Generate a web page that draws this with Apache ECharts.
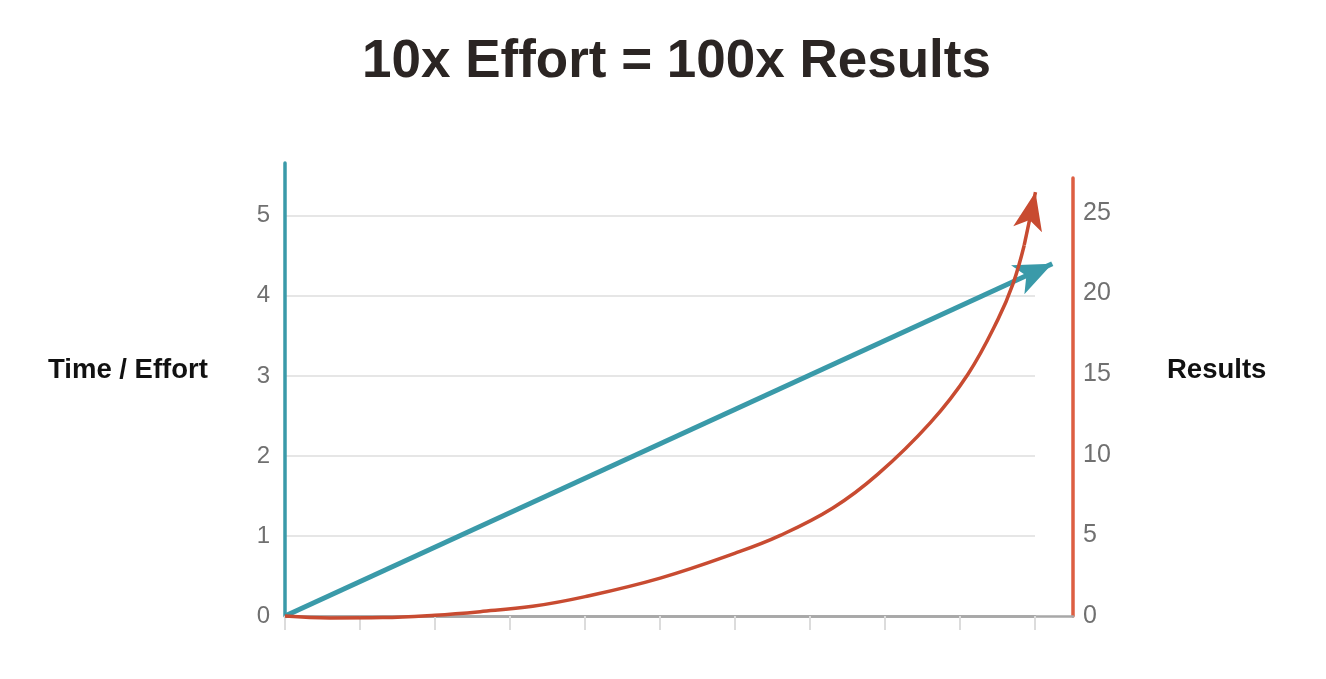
<!DOCTYPE html>
<html>
<head>
<meta charset="utf-8">
<title>10x Effort = 100x Results</title>
<script src="https://cdn.jsdelivr.net/npm/echarts@6/dist/echarts.min.js"></script>
<style>
  html, body { margin: 0; padding: 0; background: #fff; }
  #chart { width: 1326px; height: 679px; }
</style>
</head>
<body>
<div id="chart"></div>
<script>
// effort line (left axis) - straight, ends at the arrow tip
const effortX = [0, 10.23]
const effort = [0, 4.4]

// results curve (right axis), last point = arrow tip
const resultsX = [0, 0.6, 1.3, 2, 2.6, 3.3, 4, 5, 6, 6.6, 7.3, 7.9, 8.6, 9.1, 9.5, 9.7, 9.85, 10]
const results = [0, -0.12, -0.1, 0.05, 0.27, 0.6, 1.2, 2.35, 3.9, 5.0, 6.7, 8.8, 12.0, 15.0, 18.4, 20.6, 23.0, 26.3]

const effortTicks = [0, 1, 2, 3, 4, 5]
const resultsTicks = [0, 5, 10, 15, 20, 25]

const TEAL = '#3a9aa9'
const RED = '#c84b31'
const FONT = '"Liberation Sans", Arial, Helvetica, sans-serif'

const chart = echarts.init(document.getElementById('chart'))

const resultsData = resultsX.map((x, i) => [x, results[i]])
const n = resultsData.length

const option = {
  animation: false,
  title: [
    {
      text: '10x Effort = 100x Results',
      left: 357, top: 31,
      textStyle: { fontSize: 53, fontWeight: 'bold', color: '#2b2523', fontFamily: FONT }
    },
    {
      text: 'Time / Effort',
      left: 43, top: 351,
      textStyle: { fontSize: 27.5, fontWeight: 'bold', color: '#111', fontFamily: FONT }
    },
    {
      text: 'Results',
      left: 1162, top: 351,
      textStyle: { fontSize: 27.5, fontWeight: 'bold', color: '#111', fontFamily: FONT }
    }
  ],
  grid: [
    { left: 285, right: 291, top: 163, bottom: 63, outerBoundsMode: 'none' },
    { left: 285, right: 253, top: 178, bottom: 63, outerBoundsMode: 'none' }
  ],
  xAxis: [
    {
      gridIndex: 0, type: 'value', min: 0, max: 10, interval: 1,
      axisLine: { show: true, onZero: false, lineStyle: { color: '#9a9a9a', width: 2.5 } },
      axisTick: { show: true, length: 14, lineStyle: { color: '#dcdcdc', width: 2 } },
      axisLabel: { show: false },
      splitLine: { show: false }
    },
    {
      gridIndex: 1, type: 'value', min: 0, max: 10.5,
      axisLine: { show: true, onZero: false, lineStyle: { color: '#a8a8a8', width: 2.5 } },
      axisTick: { show: false },
      axisLabel: { show: false },
      splitLine: { show: false }
    }
  ],
  yAxis: [
    {
      gridIndex: 0, type: 'value', min: 0, max: 5.66, interval: 1, position: 'left',
      axisLine: { show: true, onZero: false, lineStyle: { color: TEAL, width: 3.5 } },
      axisTick: { show: false },
      axisLabel: {
        showMaxLabel: false, margin: 15, color: '#707070', fontSize: 24, fontFamily: FONT,
        formatter: v => effortTicks.includes(v) ? String(v) : ''
      },
      splitLine: { show: true, showMinLine: false, showMaxLine: false, lineStyle: { color: '#e6e6e6', width: 2 } }
    },
    {
      gridIndex: 1, type: 'value', min: 0, max: 27.17, interval: 5, position: 'right',
      axisLine: { show: true, onZero: false, lineStyle: { color: '#dd5e42', width: 3.5 } },
      axisTick: { show: false },
      axisLabel: {
        showMaxLabel: false, margin: 10, color: '#707070', fontSize: 25, fontFamily: FONT,
        formatter: v => resultsTicks.includes(v) ? String(v) : ''
      },
      splitLine: { show: false }
    }
  ],
  series: [
    {
      // effort: straight line with arrow head (tip sits past the last tick)
      type: 'lines',
      coordinateSystem: 'cartesian2d',
      xAxisIndex: 0, yAxisIndex: 0,
      clip: false,
      z: 3,
      symbol: ['none', 'arrow'],
      symbolSize: [[1, 1], [24, 38]],
      lineStyle: { color: TEAL, width: 5, opacity: 1, curveness: 0 },
      itemStyle: { color: TEAL },
      data: [{ coords: effortX.map((x, i) => [x, effort[i]]) }]
    },
    {
      // results curve (stops before the tip, arrow covers the rest)
      type: 'line',
      xAxisIndex: 1, yAxisIndex: 1,
      clip: false,
      z: 4,
      smooth: 0.4,
      showSymbol: false,
      symbol: 'none',
      lineStyle: { color: RED, width: 3.5 },
      data: resultsData.slice(0, n - 1)
    },
    {
      // arrow head on the last segment of the curve
      type: 'lines',
      coordinateSystem: 'cartesian2d',
      xAxisIndex: 1, yAxisIndex: 1,
      clip: false,
      z: 5,
      symbol: ['none', 'arrow'],
      symbolSize: [[1, 1], [22, 38]],
      lineStyle: { color: RED, width: 3.5, opacity: 1, curveness: 0 },
      itemStyle: { color: RED },
      data: [{ coords: [resultsData[n - 2], resultsData[n - 1]] }]
    }
  ]
}

chart.setOption(option)
window.addEventListener('resize', () => chart.resize())
</script>
</body>
</html>
